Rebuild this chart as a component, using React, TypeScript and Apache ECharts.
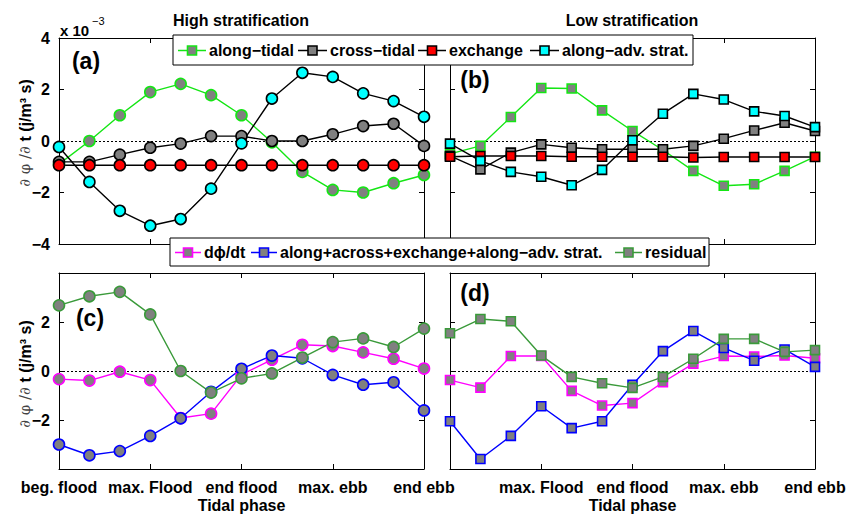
import React, { useEffect, useRef } from "react";
import * as echarts from "echarts";

// ---------- data (units: 1e-3 J/m^3 s) ----------
const phaseLabels = ["beg. flood", "max. Flood", "end flood", "max. ebb", "end ebb"];
const phaseIndex = [0, 1, 2, 3, 4, 5, 6, 7, 8, 9, 10, 11, 12];

// (a) High stratification
const highAlongTidal = [-0.9, 0.0, 1.0, 1.9, 2.22, 1.78, 1.0, -0.05, -1.2, -1.9, -2.0, -1.64, -1.32];
const highCrossTidal = [-0.81, -0.81, -0.53, -0.26, -0.1, 0.19, 0.19, 0.0, 0.0, 0.26, 0.58, 0.67, -0.19];
const highExchange = [-0.94, -0.94, -0.94, -0.94, -0.94, -0.94, -0.94, -0.94, -0.94, -0.94, -0.94, -0.94, -0.94];
const highAlongAdv = [-0.23, -1.59, -2.71, -3.29, -3.03, -1.85, -0.09, 1.65, 2.65, 2.49, 1.85, 1.55, 0.94];

// (b) Low stratification
const lowAlongTidal = [-0.5, -0.19, 0.93, 2.06, 2.04, 1.19, 0.39, -0.35, -1.16, -1.74, -1.68, -1.16, -0.61];
const lowCrossTidal = [-0.58, -1.1, -0.45, -0.13, -0.26, -0.32, -0.32, -0.32, -0.19, 0.09, 0.41, 0.71, 0.39];
const lowExchange = [-0.61, -0.58, -0.58, -0.58, -0.61, -0.61, -0.61, -0.61, -0.64, -0.62, -0.62, -0.62, -0.62];
const lowAlongAdv = [-0.1, -0.77, -1.2, -1.39, -1.72, -1.12, 0.03, 1.06, 1.83, 1.61, 1.15, 0.97, 0.54];

// (c) High stratification budget
const highDphiDt = [-0.33, -0.39, -0.03, -0.37, -1.92, -1.74, -0.15, 0.46, 1.07, 1.02, 0.76, 0.5, 0.1];
const highSum = [-3.0, -3.44, -3.27, -2.65, -1.93, -0.85, 0.09, 0.63, 0.52, -0.16, -0.56, -0.46, -1.61];
const highResidual = [2.68, 3.05, 3.23, 2.31, 0.0, -0.88, -0.3, -0.1, 0.55, 1.18, 1.33, 0.98, 1.73];

// (d) Low stratification budget
const lowDphiDt = [-0.37, -0.68, 0.61, 0.61, -0.81, -1.41, -1.31, -0.46, 0.3, 0.61, 0.59, 0.63, 0.52];
const lowSum = [-2.05, -3.59, -2.65, -1.44, -2.33, -2.05, -0.56, 0.81, 1.63, 0.94, 0.42, 0.88, 0.17];
const lowResidual = [1.54, 2.12, 2.03, 0.63, -0.24, -0.5, -0.69, -0.24, 0.5, 1.31, 1.31, 0.78, 0.85];

// ---------- styling ----------
const FONT = "'Liberation Sans', Arial, Helvetica, sans-serif";
const GREEN = "#14e614";
const DKGREEN = "#3a9a3a";
const MAGENTA = "#ff00ff";
const BLUE = "#0000ff";
const GRAY = "#808080";
const RED = "#ff0000";
const CYAN = "#00ffff";
const BLACK = "#000000";

const grids = [
  { left: 59, top: 38, width: 365, height: 206 },
  { left: 450, top: 38, width: 365, height: 206 },
  { left: 59, top: 273, width: 365, height: 205 },
  { left: 450, top: 273, width: 365, height: 205 },
];

function toPoints(vals: number[]) {
  return vals.map((v, i) => [phaseIndex[i], v]);
}

function makeSeries(
  gi: number,
  name: string,
  vals: number[],
  line: string,
  fill: string,
  edge: string,
  symbol: string,
  withZero: boolean
) {
  const s: any = {
    type: "line",
    name,
    xAxisIndex: gi * 2,
    yAxisIndex: gi * 2,
    data: toPoints(vals),
    symbol,
    symbolSize: symbol === "circle" ? 11 : 9,
    showAllSymbol: true,
    silent: true,
    lineStyle: { color: line, width: 1.4 },
    itemStyle: { color: fill, borderColor: edge, borderWidth: 1.6 },
    emphasis: { disabled: true },
    z: 3,
  };
  if (withZero) {
    s.markLine = {
      silent: true,
      symbol: "none",
      label: { show: false },
      lineStyle: { type: [2, 2], color: BLACK, width: 1.2 },
      data: [{ yAxis: 0 }],
      z: 1,
    };
  }
  return s;
}

export default function App() {
  const ref = useRef<HTMLDivElement>(null);

  useEffect(() => {
    if (!ref.current) return;
    const chart = echarts.init(ref.current, undefined, { renderer: "svg" });

    const axisLine = { show: true, onZero: false, lineStyle: { color: BLACK, width: 1 } };
    const axisTick = { show: true, inside: true, length: 5, lineStyle: { color: BLACK } };

    const xAxes: any[] = [];
    const yAxes: any[] = [];
    grids.forEach((_, gi) => {
      const bottomLabels = gi >= 2;
      xAxes.push({
        type: "value",
        gridIndex: gi,
        min: 0,
        max: 12,
        interval: 3,
        position: "bottom",
        axisLine,
        axisTick,
        splitLine: { show: false },
        axisLabel: {
          show: bottomLabels,
          margin: 10,
          color: BLACK,
          fontFamily: FONT,
          fontWeight: "bold",
          fontSize: 16,
          formatter: (v: number) => {
            const k = Math.round(v / 3);
            if (gi === 3 && k === 0) return "";
            return phaseLabels[k] ?? "";
          },
        },
        name: bottomLabels ? "Tidal phase" : "",
        nameLocation: "middle",
        nameGap: 28,
        nameTextStyle: { color: BLACK, fontFamily: FONT, fontWeight: "bold", fontSize: 16 },
      });
      xAxes.push({
        type: "value",
        gridIndex: gi,
        min: 0,
        max: 12,
        interval: 3,
        position: "top",
        axisLine,
        axisTick,
        splitLine: { show: false },
        axisLabel: { show: false },
      });
      const showY = gi === 0 || gi === 2;
      yAxes.push({
        type: "value",
        gridIndex: gi,
        min: -4,
        max: 4,
        interval: 2,
        position: "left",
        axisLine,
        axisTick,
        splitLine: { show: false },
        axisLabel: {
          show: showY,
          margin: 9,
          color: BLACK,
          fontFamily: FONT,
          fontWeight: "bold",
          fontSize: 16,
          formatter: (v: number) => {
            if (gi === 2 && Math.abs(v) === 4) return "";
            return v < 0 ? "\u2212" + Math.abs(v) : String(v);
          },
        },
      });
      yAxes.push({
        type: "value",
        gridIndex: gi,
        min: -4,
        max: 4,
        interval: 2,
        position: "right",
        axisLine,
        axisTick,
        splitLine: { show: false },
        axisLabel: { show: false },
      });
    });

    const series = [
      makeSeries(0, "along-tidal", highAlongTidal, GREEN, GRAY, GREEN, "circle", true),
      makeSeries(0, "cross-tidal", highCrossTidal, BLACK, GRAY, BLACK, "circle", false),
      makeSeries(0, "exchange", highExchange, BLACK, RED, BLACK, "circle", false),
      makeSeries(0, "along-adv. strat.", highAlongAdv, BLACK, CYAN, BLACK, "circle", false),
      makeSeries(1, "along-tidal", lowAlongTidal, GREEN, GRAY, GREEN, "rect", true),
      makeSeries(1, "cross-tidal", lowCrossTidal, BLACK, GRAY, BLACK, "rect", false),
      makeSeries(1, "exchange", lowExchange, BLACK, RED, BLACK, "rect", false),
      makeSeries(1, "along-adv. strat.", lowAlongAdv, BLACK, CYAN, BLACK, "rect", false),
      makeSeries(2, "dphi/dt", highDphiDt, MAGENTA, GRAY, MAGENTA, "circle", true),
      makeSeries(2, "sum", highSum, BLUE, GRAY, BLUE, "circle", false),
      makeSeries(2, "residual", highResidual, DKGREEN, GRAY, DKGREEN, "circle", false),
      makeSeries(3, "dphi/dt", lowDphiDt, MAGENTA, GRAY, MAGENTA, "rect", true),
      makeSeries(3, "sum", lowSum, BLUE, GRAY, BLUE, "rect", false),
      makeSeries(3, "residual", lowResidual, DKGREEN, GRAY, DKGREEN, "rect", false),
    ];

    const txt = (x: number, y: number, text: string, size: number, extra: any = {}) => ({
      type: "text",
      x,
      y,
      z: 100,
      silent: true,
      style: {
        text,
        fill: BLACK,
        fontFamily: FONT,
        fontWeight: "bold",
        fontSize: size,
        align: "center",
        verticalAlign: "middle",
        ...extra,
      },
    });

    const legendItem = (x0: number, x1: number, y: number, line: string, fill: string, edge: string, label: string) => {
      const cx = (x0 + x1) / 2;
      return [
        { type: "line", z: 101, silent: true, shape: { x1: x0, y1: y, x2: x1, y2: y }, style: { stroke: line, lineWidth: 1.5 } },
        { type: "rect", z: 102, silent: true, shape: { x: cx - 4.5, y: y - 4.5, width: 9, height: 9 }, style: { fill, stroke: edge, lineWidth: 1.6 } },
        txt(x1 + 3, y, label, 16, { align: "left" }),
      ];
    };

    const yLabel = (y: number) => ({
      type: "text",
      x: 25,
      y,
      rotation: Math.PI / 2,
      z: 100,
      silent: true,
      style: {
        text: "{n|\u2202 \u03c6 /\u2202 }{b|t (j/m\u00b3 s)}",
        align: "center",
        verticalAlign: "middle",
        rich: {
          n: { fontFamily: "'DejaVu Serif', serif", fontSize: 15, fill: "#444", fontWeight: "normal" },
          b: { fontFamily: FONT, fontSize: 16, fontWeight: "bold", fill: BLACK },
        },
      },
    });

    const graphic: any[] = [
      txt(241, 20, "High stratification", 16),
      txt(632, 20, "Low stratification", 16),
      txt(60, 30, "x 10", 15, { align: "left" }),
      txt(92, 21, "\u22123", 11, { align: "left", fontWeight: "normal" }),
      txt(86, 61, "(a)", 23),
      txt(475, 80, "(b)", 23),
      txt(90, 318, "(c)", 23),
      txt(475, 293, "(d)", 23),
      yLabel(133),
      yLabel(374),
      // legend 1
      { type: "rect", z: 99, silent: true, shape: { x: 173, y: 35, width: 520, height: 30 }, style: { fill: "#fff", stroke: BLACK, lineWidth: 1 } },
      ...legendItem(178, 206, 50.5, GREEN, GRAY, GREEN, "along\u2212tidal"),
      ...legendItem(298, 327, 50.5, BLACK, GRAY, BLACK, "cross\u2212tidal"),
      ...legendItem(418, 446, 50.5, BLACK, RED, BLACK, "exchange"),
      ...legendItem(530, 559, 50.5, BLACK, CYAN, BLACK, "along\u2212adv. strat."),
      // legend 2
      { type: "rect", z: 99, silent: true, shape: { x: 170, y: 238, width: 539, height: 28 }, style: { fill: "#fff", stroke: BLACK, lineWidth: 1 } },
      ...legendItem(175, 201, 252.5, MAGENTA, GRAY, MAGENTA, "d\u03d5/dt"),
      ...legendItem(251, 277, 252.5, BLUE, GRAY, BLUE, "along+across+exchange+along\u2212adv. strat."),
      ...legendItem(615, 642, 252.5, DKGREEN, GRAY, DKGREEN, "residual"),
    ];

    chart.setOption({
      animation: false,
      backgroundColor: "#ffffff",
      grid: grids.map((g) => ({ ...g, show: false, containLabel: false })),
      xAxis: xAxes,
      yAxis: yAxes,
      series,
      graphic,
    });

    return () => chart.dispose();
  }, []);

  return (
    <div
      ref={ref}
      style={{ position: "fixed", left: 0, top: 0, width: 856, height: 514, background: "#fff" }}
    />
  );
}
